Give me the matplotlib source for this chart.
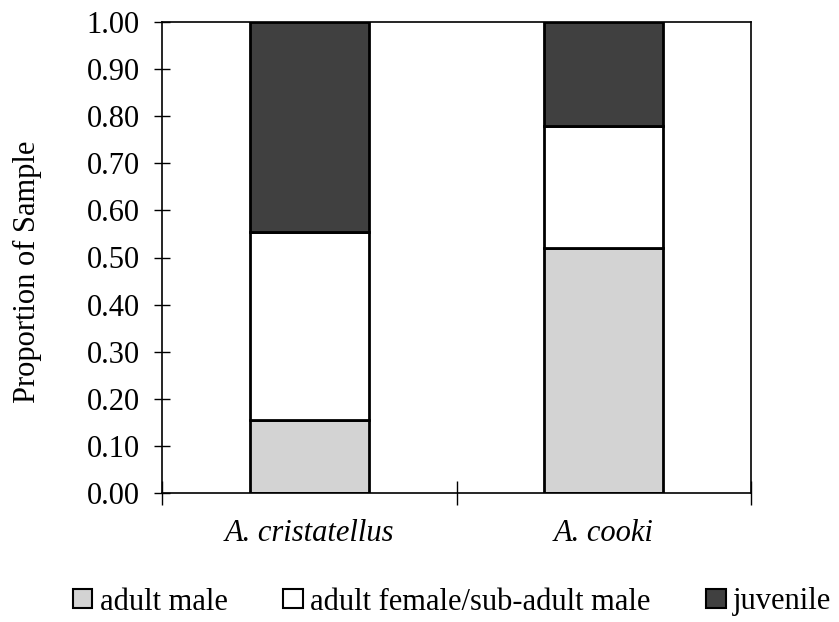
import matplotlib
matplotlib.use("Agg")
import matplotlib.pyplot as plt
from matplotlib.patches import Patch
import numpy as np

species = ["A. cristatellus", "A. cooki"]
adult_male = [0.155, 0.52]
adult_female = [0.40, 0.26]
juvenile = [0.445, 0.22]
series_labels = ["adult male", "adult female/sub-adult male", "juvenile"]
yticks = [0.0, 0.1, 0.2, 0.3, 0.4, 0.5, 0.6, 0.7, 0.8, 0.9, 1.0]

plt.rcParams['font.family'] = ['Liberation Serif', 'DejaVu Serif']
FS = 22

fig = plt.figure(figsize=(8.39, 6.22), dpi=100)
L, R, T, B = 162, 751, 22, 493
ax = fig.add_axes([L/839, 1-B/622, (R-L)/839, (B-T)/622])

x = np.arange(len(species))
w = 0.404
colors = ["#d3d3d3", "#ffffff", "#404040"]
bottom = np.zeros(len(species))
for vals, c in zip([adult_male, adult_female, juvenile], colors):
    ax.bar(x, vals, w, bottom=bottom, color=c, edgecolor="black", linewidth=2)
    bottom += np.array(vals)

ax.set_xlim(-0.5, 1.5)
ax.set_ylim(0, 1.0)
ax.set_yticks(yticks)
ax.set_yticklabels([f"{v:.2f}" for v in yticks], fontsize=FS)
ax.set_xticks([-0.5, 0.5, 1.5])
ax.set_xticklabels([])
ax.tick_params(axis='y', direction='inout', length=12, width=1, pad=10)
ax.tick_params(axis='x', direction='inout', length=17, width=1)
for i, s in enumerate(species):
    ax.text(i, -0.102, s, ha='center', va='baseline', fontsize=FS, style='italic')
for sp in ax.spines.values():
    sp.set_linewidth(1.2)
ax.set_ylabel("Proportion of Sample", fontsize=FS)
ax.yaxis.set_label_coords((42 - L)/(R - L), (B - 272)/(B - T))

handles = [Patch(facecolor=c, edgecolor="black", linewidth=1.5) for c in colors]
fig.legend(handles, series_labels, loc='center', bbox_to_anchor=(452/839, 1-602/622), ncol=3,
           frameon=False, fontsize=FS, handlelength=0.65, handleheight=0.6,
           handletextpad=0.25, columnspacing=1.8, borderpad=0, borderaxespad=0)

fig.savefig("out.png", dpi=100)
